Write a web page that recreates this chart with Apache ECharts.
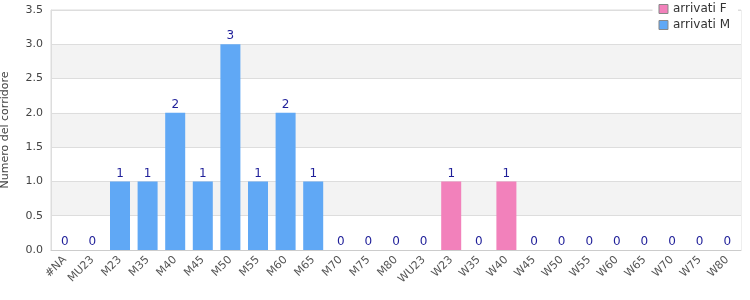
<!DOCTYPE html>
<html>
<head>
<meta charset="utf-8">
<script src="https://cdn.jsdelivr.net/npm/echarts@6/dist/echarts.min.js"></script>
<style>
  html, body { margin: 0; padding: 0; background: #fff; }
  #chart { width: 750px; height: 300px; }
</style>
</head>
<body>
<div id="chart"></div>
<script>
  // categorie e valori
  var categories = ['#NA', 'MU23', 'M23', 'M35', 'M40', 'M45', 'M50', 'M55', 'M60', 'M65', 'M70', 'M75', 'M80',
    'WU23', 'W23', 'W35', 'W40', 'W45', 'W50', 'W55', 'W60', 'W65', 'W70', 'W75', 'W80'];
  var arrivatiM = [0, 0, 1, 1, 2, 1, 3, 1, 2, 1, 0, 0, 0,
    null, null, null, null, null, null, null, null, null, null, null, null];
  var arrivatiF = [null, null, null, null, null, null, null, null, null, null, null, null, null,
    0, 1, 0, 1, 0, 0, 0, 0, 0, 0, 0, 0];
  var yTicks = [0, 3.5, 0.5];

  var font = 'DejaVu Sans';
  var labelStyle = {
    show: true,
    position: 'top',
    color: '#1f1f99',
    fontFamily: font,
    fontSize: 12,
    distance: 2
  };

  var myChart = echarts.init(document.getElementById('chart'));
  var option = {
    animation: false,
    textStyle: { fontFamily: font },
    grid: {
      left: 51, right: 9, top: 10, bottom: 50,
      outerBoundsMode: 'none', containLabel: false,
      show: true, borderColor: '#ddd', borderWidth: 1
    },
    legend: {
      orient: 'vertical',
      right: 12,
      top: 1,
      icon: 'rect',
      itemWidth: 9,
      itemHeight: 9,
      itemGap: 4,
      backgroundColor: '#fff',
      padding: [2, 8, 2, 6],
      textStyle: { color: '#333', fontSize: 12, fontFamily: font },
      data: ['arrivati F', 'arrivati M'],
      itemStyle: { borderColor: '#888', borderWidth: 1 }
    },
    xAxis: {
      type: 'category',
      data: categories,
      axisLine: { lineStyle: { color: '#ccc' } },
      axisTick: { show: false },
      axisLabel: { rotate: 45, color: '#555', fontSize: 11, fontFamily: font, interval: 0, margin: 8 }
    },
    yAxis: {
      type: 'value',
      min: yTicks[0],
      max: yTicks[1],
      interval: yTicks[2],
      name: 'Numero del corridore',
      nameLocation: 'middle',
      nameGap: 40,
      nameTextStyle: { color: '#444', fontSize: 11, fontFamily: font },
      axisLine: { show: true, lineStyle: { color: '#ddd' } },
      axisTick: { show: false },
      axisLabel: { color: '#444', fontSize: 11, fontFamily: font, formatter: function (v) { return v.toFixed(1); } },
      splitLine: { lineStyle: { color: '#ddd' } },
      splitArea: { show: true, areaStyle: { color: ['#fff', '#f3f3f3'] } }
    },
    series: [
      {
        name: 'arrivati F',
        type: 'bar',
        stack: 'tot',
        barWidth: 20,
        itemStyle: { color: '#f281bb', borderRadius: 0, borderWidth: 0 },
        label: labelStyle,
        data: arrivatiF
      },
      {
        name: 'arrivati M',
        type: 'bar',
        stack: 'tot',
        barWidth: 20,
        itemStyle: { color: '#60a8f5', borderRadius: 0, borderWidth: 0 },
        label: labelStyle,
        data: arrivatiM
      }
    ]
  };
  myChart.setOption(option);
</script>
</body>
</html>
